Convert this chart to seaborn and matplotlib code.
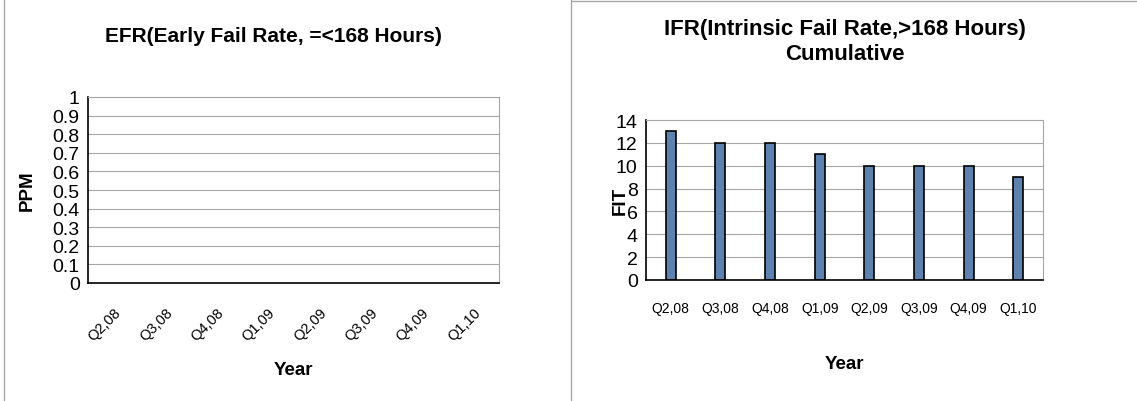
import numpy as np
import seaborn as sns
import pandas as pd
import matplotlib
matplotlib.use('Agg')
import matplotlib.pyplot as plt
from matplotlib.lines import Line2D

# Data
quarters = ['Q2,08', 'Q3,08', 'Q4,08', 'Q1,09', 'Q2,09', 'Q3,09', 'Q4,09', 'Q1,10']
efr_ppm = [0, 0, 0, 0, 0, 0, 0, 0]
ifr_fit = [13, 12, 12, 11, 10, 10, 10, 9]

BAR = '#4F81BD'
GRID = '#a6a6a6'


def style_axes(ax, ymax, ystep):
    ax.set_ylim(0, ymax)
    ax.set_xlim(-0.5, len(quarters) - 0.5)
    ax.set_yticks(np.arange(0, ymax + ystep / 2, ystep))
    ax.grid(axis='y', color=GRID, linewidth=0.8)
    ax.set_axisbelow(True)
    ax.spines['left'].set_color('black')
    ax.spines['bottom'].set_color('black')
    ax.spines['left'].set_linewidth(1.2)
    ax.spines['bottom'].set_linewidth(1.2)
    ax.spines['top'].set_color(GRID)
    ax.spines['right'].set_color(GRID)
    ax.tick_params(axis='x', which='major', length=0)
    ax.set_xticks(np.arange(-0.5, len(quarters), 1.0), minor=True)
    ax.tick_params(axis='x', which='minor', length=4, color='black')
    ax.tick_params(axis='y', length=4, labelsize=14, pad=2)


def main():
    sns.set_style('white')
    plt.rcParams['font.family'] = ['Liberation Sans', 'DejaVu Sans']
    plt.rcParams['text.color'] = 'black'
    plt.rcParams['axes.labelcolor'] = 'black'
    plt.rcParams['xtick.color'] = 'black'
    plt.rcParams['ytick.color'] = 'black'

    fig = plt.figure(figsize=(11.37, 4.02), dpi=100)

    # Left: EFR
    ax1 = fig.add_axes([88 / 1137, 1 - 284 / 402, 411 / 1137, 186 / 402])
    df1 = pd.DataFrame({'Year': quarters, 'PPM': efr_ppm})
    sns.barplot(data=df1, x='Year', y='PPM', color=BAR, width=0.2,
                edgecolor='black', linewidth=0, ax=ax1)
    style_axes(ax1, 1.0, 0.1)
    ax1.set_yticklabels(['0'] + ['%.1f' % v for v in np.arange(0.1, 0.95, 0.1)] + ['1'])
    ax1.set_xticks(range(len(quarters)))
    ax1.set_xticklabels(quarters, rotation=45, ha='right', rotation_mode='anchor', fontsize=10.5)
    ax1.tick_params(axis='x', which='major', pad=16)
    ax1.set_xlabel('Year', fontsize=13.5, fontweight='bold', labelpad=13)
    ax1.set_ylabel('PPM', fontsize=13.5, fontweight='bold', labelpad=12)
    fig.text(273 / 1137, 1 - 37 / 402, 'EFR(Early Fail Rate, =<168 Hours)',
             ha='center', va='center', fontsize=15, fontweight='bold')

    # Right: IFR
    ax2 = fig.add_axes([646 / 1137, 1 - 281 / 402, 397 / 1137, 160 / 402])
    df2 = pd.DataFrame({'Year': quarters, 'FIT': ifr_fit})
    sns.barplot(data=df2, x='Year', y='FIT', color=BAR, width=0.2,
                edgecolor='black', linewidth=1.2, ax=ax2)
    style_axes(ax2, 14, 2)
    ax2.set_xticks(range(len(quarters)))
    ax2.set_xticklabels(quarters, fontsize=10)
    ax2.tick_params(axis='x', which='major', pad=15)
    ax2.set_xlabel('Year', fontsize=13.5, fontweight='bold', labelpad=29)
    ax2.set_ylabel('FIT', fontsize=13.5, fontweight='bold', labelpad=-9)
    fig.text(845 / 1137, 1 - 42 / 402, 'IFR(Intrinsic Fail Rate,>168 Hours)\nCumulative',
             ha='center', va='center', fontsize=16, fontweight='bold', linespacing=1.2)

    # Chart frames
    fig.add_artist(Line2D([571 / 1137, 571 / 1137], [0, 1], color=GRID, linewidth=1,
                          transform=fig.transFigure))
    fig.add_artist(Line2D([571 / 1137, 1], [1 - 2 / 402, 1 - 2 / 402], color=GRID, linewidth=1,
                          transform=fig.transFigure))
    fig.add_artist(Line2D([4 / 1137, 4 / 1137], [0, 1], color=GRID, linewidth=1,
                          transform=fig.transFigure))

    plt.savefig('out.png', dpi=100)
    plt.close()


if __name__ == "__main__":
    main()
